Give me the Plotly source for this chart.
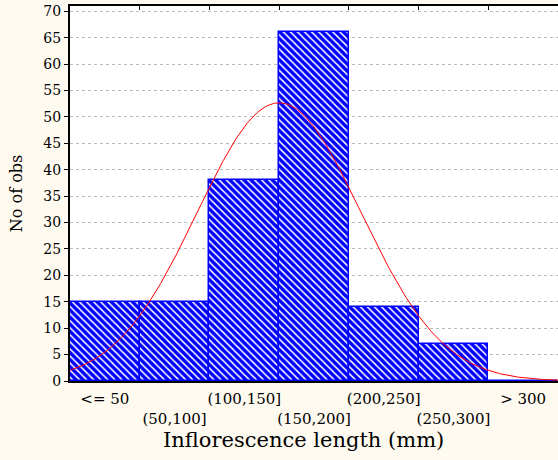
import numpy as np
import plotly.graph_objects as go

# Data
categories = ["<= 50", "(50,100]", "(100,150]", "(150,200]", "(200,250]", "(250,300]", "> 300"]
counts = [15, 15, 38, 66, 14, 7, 0]
bin_width = 50
bin_centers = [25, 75, 125, 175, 225, 275, 325]
bin_edges = [50, 100, 150, 200, 250, 300]
y_ticks = [0, 5, 10, 15, 20, 25, 30, 35, 40, 45, 50, 55, 60, 65, 70]

# Fitted normal curve parameters (expected counts)
fit_mean = 150.0
fit_sd = 58.7
n_obs = sum(counts)

xs = np.linspace(0, 350, 351)
ys = n_obs * bin_width / (fit_sd * np.sqrt(2 * np.pi)) * np.exp(-(xs - fit_mean) ** 2 / (2 * fit_sd ** 2))

FONT = "DejaVu Serif"

ticktext = [c if i % 2 == 0 else "<br>" + c for i, c in enumerate(categories)]

fig = go.Figure()
fig.add_trace(go.Bar(
    x=bin_centers, y=counts, width=bin_width,
    marker=dict(color="white",
                line=dict(color="#0000ff", width=1.5),
                pattern=dict(shape="\\", fgcolor="#0000ff", bgcolor="white",
                             fgopacity=1, size=5, solidity=0.7)),
    showlegend=False, hoverinfo="skip",
))
fig.add_trace(go.Scatter(
    x=xs, y=ys, mode="lines", line=dict(color="#ff0000", width=1),
    showlegend=False, hoverinfo="skip",
))
# invisible trace on the top axis to activate it
fig.add_trace(go.Scatter(x=[0, 350], y=[0, 0], xaxis="x2", mode="lines",
                         line=dict(width=0), showlegend=False, hoverinfo="skip"))

fig.update_layout(
    width=558, height=460,
    margin=dict(l=70, r=0, t=6, b=79, autoexpand=False),
    paper_bgcolor="#fffaf0",
    plot_bgcolor="white",
    bargap=0,
    font=dict(family=FONT, color="black", size=14),
    xaxis=dict(
        range=[0, 350], tickvals=bin_centers, ticktext=ticktext, tickangle=0,
        ticks="", showgrid=False, zeroline=False, ticklabelstandoff=3,
        showline=True, linecolor="black", linewidth=2,
        tickfont=dict(family=FONT, size=15),
    ),
    xaxis2=dict(
        range=[0, 350], overlaying="x", side="top", tickvals=bin_edges,
        ticks="inside", ticklen=4, tickcolor="black", showticklabels=False,
        showgrid=False, zeroline=False, showline=True, linecolor="black", linewidth=2,
    ),
    yaxis=dict(
        range=[0, 71], tickvals=y_ticks, ticks="outside", ticklen=4, tickcolor="black",
        showgrid=True, gridcolor="#bbbbbb", griddash="dot", gridwidth=1,
        zeroline=False, showline=True, linecolor="black", linewidth=2,
        tickfont=dict(family=FONT, size=14),
        title=dict(text="No of obs", font=dict(family=FONT, size=16), standoff=17),
    ),
    annotations=[dict(
        text="Inflorescence length (mm)", xref="paper", yref="paper",
        x=(303 - 70) / 488, y=-(440 - 381) / 375, xanchor="center", yanchor="middle",
        showarrow=False, font=dict(family=FONT, size=21, color="black"),
    )],
)

fig.write_html("out.html")
